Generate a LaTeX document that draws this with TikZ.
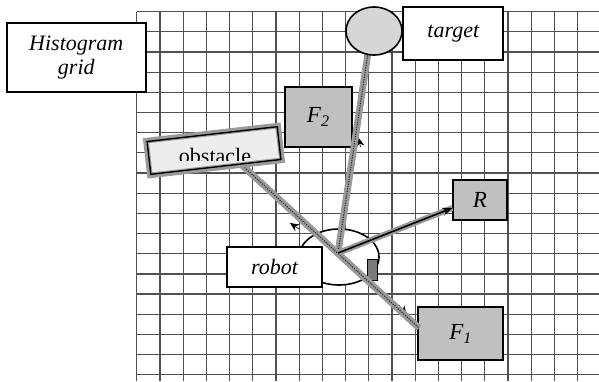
\documentclass[tikz,border=0pt]{standalone}
\usepackage{fontspec}
\setmainfont{Liberation Serif}
\usetikzlibrary{arrows.meta,shapes.geometric}
\definecolor{boxgray}{HTML}{C0C0C0}
\definecolor{ellgray}{HTML}{D6D6D6}
\definecolor{beamgray}{HTML}{9A9A9A}
\definecolor{gridgray}{HTML}{505050}
\definecolor{obstfill}{HTML}{EDEDED}
\definecolor{smallgray}{HTML}{7A7A7A}
\begin{document}
\begin{tikzpicture}[x=0.5pt,y=-0.5pt,
  box/.style={draw=black, line width=1pt, rectangle, inner sep=0pt,
    font=\fontsize{11}{12}\selectfont\itshape, align=center},
  wbox/.style={box, fill=white},
  gbox/.style={box, fill=boxgray, font=\fontsize{11.5}{12}\selectfont\itshape},
  beam/.style={draw=beamgray, line width=3.4pt,
    postaction={draw=black!85, line width=0.5pt, dash pattern=on 0.6pt off 0.6pt}},
  gridline/.style={draw=gridgray, line width=0.6pt},
  tipar/.style={-{Stealth[length=4.5pt,width=4pt]}, line width=0.3pt, black}]
\useasboundingbox (0,0) rectangle (599,381);
% grid
\foreach \i in {0,...,19}
  \draw[gridline] ({136.7+23.21*\i},11.7) -- ({136.7+23.21*\i},381);
\foreach \j in {0,...,18}
  \draw[gridline] (136.7,{11.7+20.17*\j}) -- (599,{11.7+20.17*\j});
% boxes
\node[wbox, minimum width=69.7pt, minimum height=34.2pt] (hist) at (76.3,57.5) {Histogram\\grid};
\node[wbox, minimum width=50pt, minimum height=26.7pt] (tbox) at (453.3,33.3) {target};
\node[gbox, minimum width=33.5pt, minimum height=29.7pt] (F2) at (318.5,117) {F\textsubscript{\textit{2}}};
\node[gbox, minimum width=26.7pt, minimum height=20pt] (R) at (480,200) {R};
\node[gbox, minimum width=42.5pt, minimum height=26.3pt] (F1) at (460.8,333.7) {F\textsubscript{\textit{1}}};
% robot
\node[ellipse, draw=black, line width=0.8pt, fill=white, minimum width=40pt, minimum height=28pt, inner sep=0pt] (rob) at (339,257) {};
\node[rectangle, draw=black, line width=0.6pt, fill=smallgray, minimum width=5pt, minimum height=10.7pt, inner sep=0pt] (sens) at (372.3,270) {};
\node[wbox, minimum width=47.2pt, minimum height=20pt] (robot) at (274.5,267.3) {robot};
\coordinate (rc) at (338,253);
% hidden force arrows (tips only visible)
\coordinate (f2a) at (360.5,147);
\coordinate (f2b) at (358.5,137.5);
\draw[tipar] (f2a) -- (f2b);
\coordinate (oa) at (299,229);
\coordinate (ob) at (290,223);
\draw[tipar] (oa) -- (ob);
\coordinate (f1a) at (399,305);
\coordinate (f1b) at (406.5,315);
\draw[tipar] (f1a) -- (f1b);
% beams
\coordinate (tfoot) at (368,53);
\coordinate (ostart) at (232,156);
\coordinate (f1end) at (419,328);
\draw[beam] (tfoot) -- (rc);
\draw[beam] (ostart) -- (f1end);
\draw[draw=beamgray, line width=3pt] (rc) -- ([yshift=-4pt]R.west);
\draw[-{Stealth[length=5pt,width=4pt]}, line width=0.8pt, black] (rc) -- ([yshift=-4pt]R.west);
% target ellipse
\node[ellipse, draw=black, line width=0.8pt, fill=ellgray, minimum width=28pt, minimum height=24pt, inner sep=0pt] (tgt) at (374,31) {};
% obstacle
\node[rectangle, draw=beamgray, line width=2.8pt, fill=obstfill, minimum width=66.5pt, minimum height=17.5pt, inner sep=0pt, rotate=6.5] (obst) at (214,150.5) {};
\node[rectangle, draw=black, line width=0.7pt, minimum width=65.5pt, minimum height=16.5pt, inner sep=0pt, rotate=6.5] (obstin) at (214,150.5) {};
\begin{scope}
  \clip (160,140) rectangle (270,160);
  \node[anchor=base, inner sep=0pt, font=\fontsize{11}{12}\selectfont] (obtext) at (215,163.5) {obstacle};
\end{scope}
\end{tikzpicture}
\end{document}
